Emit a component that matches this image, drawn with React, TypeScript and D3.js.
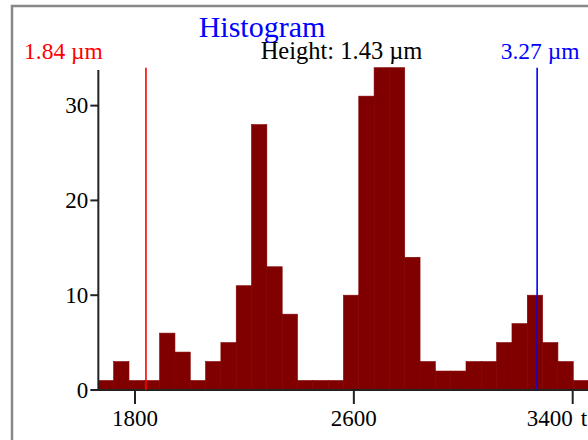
import * as d3 from "d3";

const WIDTH = 588;
const HEIGHT = 440;
const FONT = "'Liberation Serif', 'Times New Roman', serif";

// histogram bins: start of the first bin and bin width, in x units
const binStart = 1666;
const binWidth = 56;
const counts = [
  1, 3, 1, 1, 6, 4, 1, 3, 5, 11, 28, 13, 8, 1, 1, 1,
  10, 31, 34, 34, 14, 3, 2, 2, 3, 3, 5, 7, 10, 5, 3, 1,
];

const xTicks = [1800, 2600, 3400];
const yTicks = [0, 10, 20, 30];

const lowerMarker = 1840; // 1.84 µm
const upperMarker = 3270; // 3.27 µm
const lowerLabel = "1.84 µm";
const upperLabel = "3.27 µm";
const heightLabel = "Height: 1.43 µm";
const title = "Histogram";
const xAxisLabel = "t";

export default function App() {
  const x = d3.scaleLinear().domain([1800, 3400]).range([135, 572.7]);
  const y = d3.scaleLinear().domain([0, 34]).range([390, 67.7]);

  const bins = counts.map((c, i) => ({
    x0: binStart + i * binWidth,
    x1: binStart + (i + 1) * binWidth,
    value: c,
  }));

  const axisLeft = x(binStart);
  const xr = x(lowerMarker);
  const xb = x(upperMarker);

  // bars drawn slightly stroked so neighbours close up without seams
  const bars = bins.map((d, i) => (
    <rect
      key={i}
      x={x(d.x0)}
      y={y(d.value)}
      width={x(d.x1) - x(d.x0)}
      height={y(0) - y(d.value)}
      fill="#800000"
      stroke="#800000"
      strokeWidth={0.6}
    />
  ));

  const yAxis = (
    <g>
      <line x1={axisLeft} x2={axisLeft} y1={y(0) + 1} y2={y(33.75)} stroke="#222" strokeWidth={2} />
      {yTicks.map((t) => (
        <g key={t}>
          <line x1={axisLeft - 8} x2={axisLeft} y1={y(t)} y2={y(t)} stroke="#222" strokeWidth={2} />
          <text
            x={axisLeft - 10}
            y={y(t)}
            dy="0.34em"
            textAnchor="end"
            fontSize={23}
            fontFamily={FONT}
            fill="#000"
          >
            {t}
          </text>
        </g>
      ))}
    </g>
  );

  const xAxis = (
    <g>
      <line x1={axisLeft} x2={WIDTH + 10} y1={y(0)} y2={y(0)} stroke="#222" strokeWidth={2} />
      {xTicks.map((t, i) => (
        <g key={t}>
          <line x1={x(t)} x2={x(t)} y1={y(0)} y2={y(0) + 14} stroke="#222" strokeWidth={2} />
          <text
            x={x(t)}
            y={425.5}
            textAnchor={i === xTicks.length - 1 ? "end" : "middle"}
            fontSize={23}
            fontFamily={FONT}
            fill="#000"
          >
            {t}
          </text>
        </g>
      ))}
      <text x={x(xTicks[xTicks.length - 1]) + 8} y={425.5} fontSize={23} fontFamily={FONT} fill="#000">
        {xAxisLabel}
      </text>
    </g>
  );

  return (
    <div style={{ position: "absolute", left: 0, top: 0 }}>
      <svg width={WIDTH} height={HEIGHT} style={{ display: "block", background: "#fff" }}>
        <rect x={12} y={6} width={WIDTH + 20} height={HEIGHT + 20} fill="#fff" stroke="#888" strokeWidth={2.5} />
        {bars}
        {yAxis}
        {xAxis}
        <line x1={xr} x2={xr} y1={y(34)} y2={y(0)} stroke="#ff0000" strokeWidth={1.6} />
        <line x1={xb} x2={xb} y1={y(34)} y2={y(0)} stroke="#0000ff" strokeWidth={1.6} />
        <text x={262} y={36.5} textAnchor="middle" fontSize={30} fontFamily={FONT} fill="#0000ff">
          {title}
        </text>
        <text x={(xr + xb) / 2} y={58.5} textAnchor="middle" fontSize={24.5} fontFamily={FONT} fill="#000">
          {heightLabel}
        </text>
        <text x={24} y={59} textAnchor="start" fontSize={23.5} fontFamily={FONT} fill="#ff0000">
          {lowerLabel}
        </text>
        <text x={xb + 3} y={59} textAnchor="middle" fontSize={23.5} fontFamily={FONT} fill="#0000ff">
          {upperLabel}
        </text>
      </svg>
    </div>
  );
}
